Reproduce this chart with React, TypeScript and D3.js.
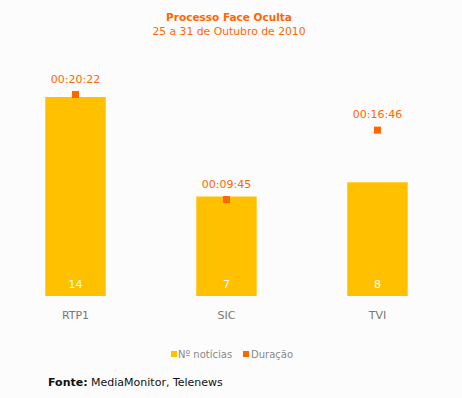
import React from "react";
import * as d3 from "d3";

const channels = ["RTP1", "SIC", "TVI"];
const newsCount = [14, 7, 8];
const durationLabels = ["00:20:22", "00:09:45", "00:16:46"];
const durationSeconds = [1222, 585, 1006];

const width = 462;
const height = 398;
const barColor = "#FFC000";
const durColor = "#FF6600";
const font = "'DejaVu Sans', Verdana, sans-serif";

const App = () => {
  const x = d3.scaleBand().domain(channels).range([0, 453]).paddingInner(0.6).paddingOuter(0.3);
  const yCount = d3.scaleLinear().domain([0, 14]).range([296, 97]);
  const yDur = d3.scaleLinear().domain([0, 1207]).range([296, 97]);

  return (
    <svg
      width={width}
      height={height}
      style={{ position: "absolute", left: 0, top: 0, background: "#fcfcfc" }}
    >
      <text x={229} y={21} textAnchor="middle" fontFamily={font} fontSize={10.5} fontWeight="bold" fill={durColor}>
        Processo Face Oculta
      </text>
      <text x={229} y={35} textAnchor="middle" fontFamily={font} fontSize={10.8} fill={durColor}>
        25 a 31 de Outubro de 2010
      </text>

      {channels.map((c, i) => {
        const bx = x(c)!;
        const cx = bx + x.bandwidth() / 2;
        const dy = yDur(durationSeconds[i]);
        return (
          <g key={c}>
            <rect x={bx} y={yCount(newsCount[i])} width={x.bandwidth()} height={yCount(0) - yCount(newsCount[i])} fill={barColor} />
            <text x={cx} y={288} textAnchor="middle" fontFamily={font} fontSize={11} fill="#fff">
              {newsCount[i]}
            </text>
            <rect x={cx - 3.5} y={dy - 3.5} width={7} height={7} fill={durColor} />
            <text x={cx} y={dy - 12} textAnchor="middle" fontFamily={font} fontSize={11} fill={durColor}>
              {durationLabels[i]}
            </text>
            <text x={cx} y={319} textAnchor="middle" fontFamily={font} fontSize={11} fill="#777">
              {c}
            </text>
          </g>
        );
      })}

      <g fontFamily={font} fontSize={10} fill="#888">
        <rect x={171} y={351} width={6} height={6} fill={barColor} />
        <text x={178} y={358}>Nº notícias</text>
        <rect x={243} y={351} width={6} height={6} fill={durColor} />
        <text x={251} y={358}>Duração</text>
      </g>

      <text x={48} y={386} fontFamily={font} fontSize={11} fill="#111">
        <tspan fontWeight="bold">Fonte:</tspan> MediaMonitor, Telenews
      </text>
    </svg>
  );
};

export default App;
